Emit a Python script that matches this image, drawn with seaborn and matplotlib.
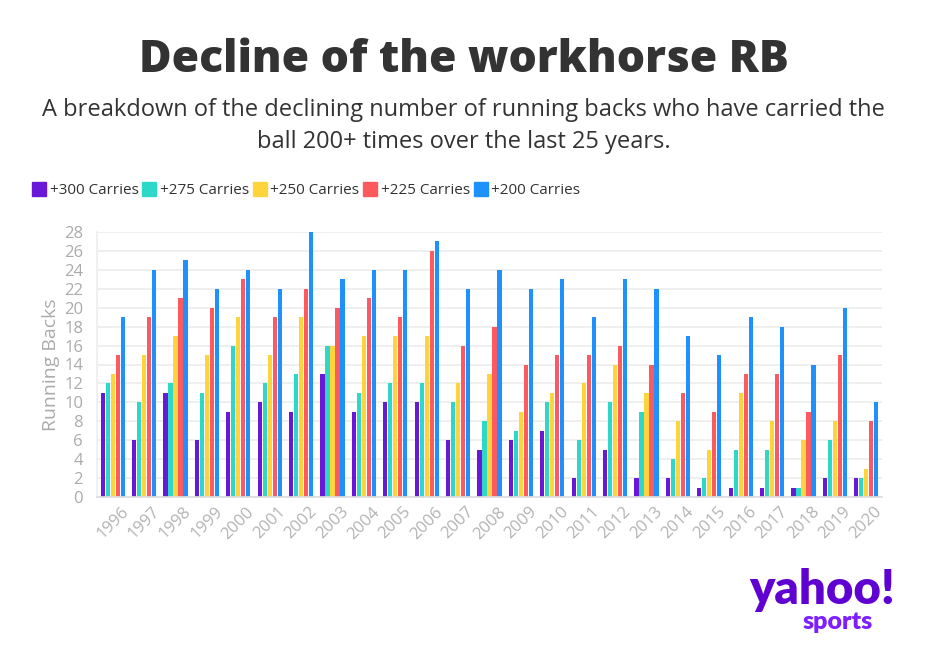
import matplotlib
matplotlib.use("Agg")
import matplotlib.pyplot as plt
import seaborn as sns
import pandas as pd
from matplotlib.lines import Line2D

years = [str(y) for y in range(1996, 2021)]
series = ["+300 Carries", "+275 Carries", "+250 Carries", "+225 Carries", "+200 Carries"]
c300 = [11, 6, 11, 6, 9, 10, 9, 13, 9, 10, 10, 6, 5, 6, 7, 2, 5, 2, 2, 1, 1, 1, 1, 2, 2]
c275 = [12, 10, 12, 11, 16, 12, 13, 16, 11, 12, 12, 10, 8, 7, 10, 6, 10, 9, 4, 2, 5, 5, 1, 6, 2]
c250 = [13, 15, 17, 15, 19, 15, 19, 16, 17, 17, 17, 12, 13, 9, 11, 12, 14, 11, 8, 5, 11, 8, 6, 8, 3]
c225 = [15, 19, 21, 20, 23, 19, 22, 20, 21, 19, 26, 16, 18, 14, 15, 15, 16, 14, 11, 9, 13, 13, 9, 15, 8]
c200 = [19, 24, 25, 22, 24, 22, 28, 23, 24, 24, 27, 22, 24, 22, 23, 19, 23, 22, 17, 15, 19, 18, 14, 20, 10]
colors = ["#6a17d8", "#2ed8c9", "#fed43c", "#fc5a5e", "#1f91fd"]
yticks = list(range(0, 29, 2))

rows = []
for s, vals in zip(series, [c300, c275, c250, c225, c200]):
    for y, v in zip(years, vals):
        rows.append({"Year": y, "Series": s, "Value": v})
df = pd.DataFrame(rows)

sns.set_theme(style="white")
plt.rcParams["font.family"] = ["Open Sans", "DejaVu Sans"]

fig = plt.figure(figsize=(9.27, 6.66), dpi=100)
ax = fig.add_axes([97/927, 1-497/666, 785/927, 265/666])

sns.barplot(data=df, x="Year", y="Value", hue="Series", palette=colors,
            order=years, hue_order=series, width=0.8, gap=0.15,
            linewidth=0, saturation=1, ax=ax, legend=False)

ax.set_ylim(0, 28)
ax.set_xlim(-0.5, len(years) - 0.5)
ax.set_yticks(yticks)
ax.set_yticklabels([str(t) for t in yticks], fontsize=12, color="#ababab")
ax.set_xticks(range(len(years)))
ax.set_xticklabels(years, rotation=45, fontsize=12, color="#b3b3b3", ha="center")
ax.tick_params(axis="x", length=4, color="#dddddd", pad=1)
ax.tick_params(axis="y", length=0, pad=10)
ax.grid(axis="y", color="#ececec", linewidth=1.2)
ax.set_axisbelow(True)
for sp in ["top", "right"]:
    ax.spines[sp].set_visible(False)
ax.spines["left"].set_color("#eeeeee")
ax.spines["bottom"].set_color("#dddddd")
ax.set_xlabel("")
ax.set_ylabel("Running Backs", fontsize=14, color="#ababab", labelpad=3)

fig.text(0.5, 1-60/666, "Decline of the workhorse RB", ha="center", va="center",
         fontsize=32, fontweight="heavy", color="#333333")
fig.text(0.5, 1-110/666, "A breakdown of the declining number of running backs who have carried the",
         ha="center", va="center", fontsize=17, color="#333333")
fig.text(0.5, 1-142/666, "ball 200+ times over the last 25 years.",
         ha="center", va="center", fontsize=17, color="#333333")

handles = [Line2D([0], [0], marker="s", linestyle="", markersize=10.5,
                  markerfacecolor=c, markeredgecolor=c) for c in colors]
fig.legend(handles, series, loc="center left", bbox_to_anchor=(19/927, 1-191/666),
           ncol=5, frameon=False, fontsize=11, handlelength=0.8, handletextpad=0.3,
           columnspacing=0.3, labelcolor="#333333")

fig.text(822/927, 1-590/666, "yahoo!", ha="center", va="center", fontsize=34,
         fontweight="heavy", color="#5f01d1", family=["Lato", "DejaVu Sans"])
fig.text(838/927, 1-622/666, "sports", ha="center", va="center", fontsize=18,
         fontweight="heavy", color="#7e1fff", family=["Lato", "DejaVu Sans"])

fig.savefig("out.png", dpi=100, facecolor="white")
